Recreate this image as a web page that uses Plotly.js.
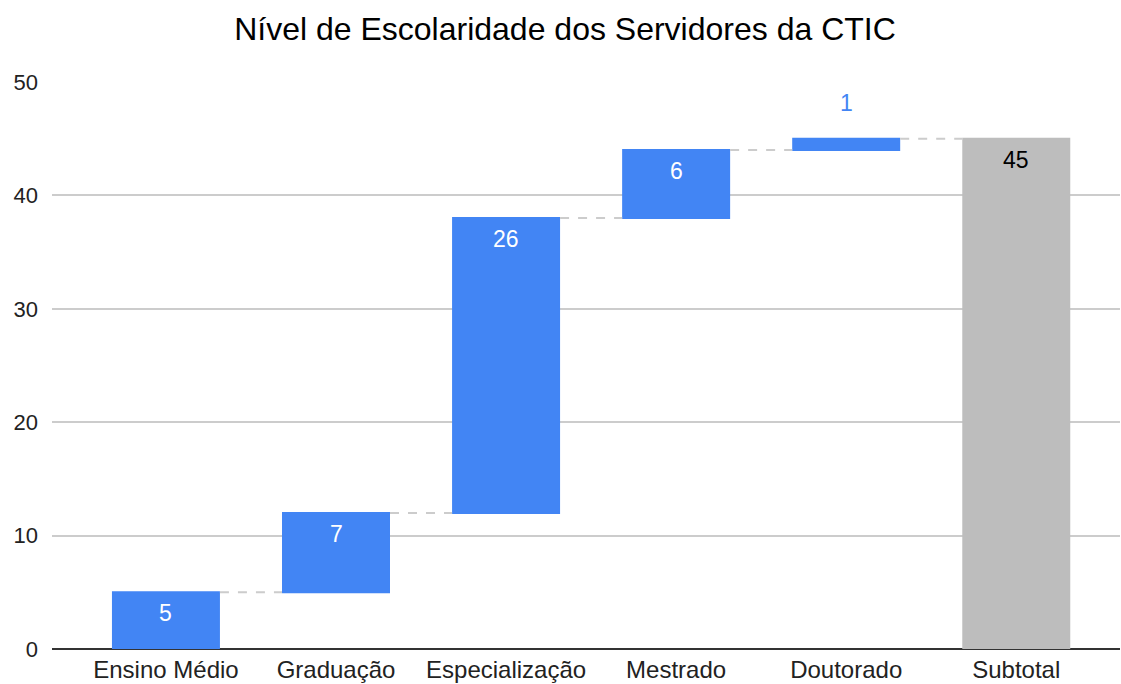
<!DOCTYPE html>
<html>
<head>
<meta charset="utf-8">
<script src="https://cdn.plot.ly/plotly-3.0.1.min.js"></script>
<style>html,body{margin:0;padding:0;background:#fff;}#chart{width:1121px;height:684px;}</style>
</head>
<body>
<div id="chart"></div>
<script>
var categories = ["Ensino Médio", "Graduação", "Especialização", "Mestrado", "Doutorado", "Subtotal"];
var values = [5, 7, 26, 6, 1, 45];
var measures = ["relative", "relative", "relative", "relative", "relative", "total"];
var chartTitle = "Nível de Escolaridade dos Servidores da CTIC";

(function () {
  var FONT = "Liberation Sans, Arial, sans-serif";
  var BLUE = "#4285F4";
  var GRAY = "#BDBDBD";

  var trace = {
    type: "waterfall",
    x: categories,
    y: values,
    measure: measures,
    width: 0.635,
    textposition: "none",
    increasing: {marker: {color: BLUE}},
    decreasing: {marker: {color: BLUE}},
    totals: {marker: {color: GRAY}},
    connector: {line: {color: "#cccccc", width: 2, dash: "dash"}}
  };

  var anns = [];
  var running = 0;
  for (var i = 0; i < categories.length; i++) {
    var barTop, barBase;
    if (measures[i] === "total") { barTop = values[i]; barBase = 0; running = values[i]; }
    else { barBase = running; running += values[i]; barTop = running; }
    var inside = (barTop - barBase) >= 2;
    anns.push({
      x: i, y: barTop, xref: "x", yref: "y",
      text: String(values[i]), showarrow: false,
      yanchor: inside ? "top" : "bottom",
      yshift: inside ? -6 : 21,
      font: {family: FONT, size: 23,
        color: measures[i] === "total" ? "#000000" : (inside ? "#ffffff" : BLUE)}
    });
  }

  var layout = {
    width: 1121, height: 684,
    margin: {l: 52, r: 1, t: 82, b: 35},
    paper_bgcolor: "#ffffff", plot_bgcolor: "#ffffff",
    showlegend: false,
    font: {family: FONT, size: 22, color: "#222222"},
    title: {text: chartTitle, x: 0.504, xanchor: "center", y: 0.975, yanchor: "top",
            font: {family: FONT, size: 32, color: "#000000"}},
    xaxis: {type: "category", range: [-0.67, 5.61], showgrid: false, zeroline: false,
            showline: false, ticks: "", tickangle: 0, ticklabelstandoff: 4,
            tickfont: {family: FONT, size: 24, color: "#222222"}},
    yaxis: {range: [0, 50], dtick: 10, showgrid: true, gridcolor: "#cccccc", gridwidth: 1.5,
            zeroline: true, zerolinecolor: "#333333", zerolinewidth: 2,
            showline: false, ticks: "", ticklabelstandoff: 13,
            tickfont: {family: FONT, size: 22, color: "#222222"}},
    annotations: anns
  };

  Plotly.newPlot("chart", [trace], layout, {displayModeBar: false});
})();
</script>
</body>
</html>
